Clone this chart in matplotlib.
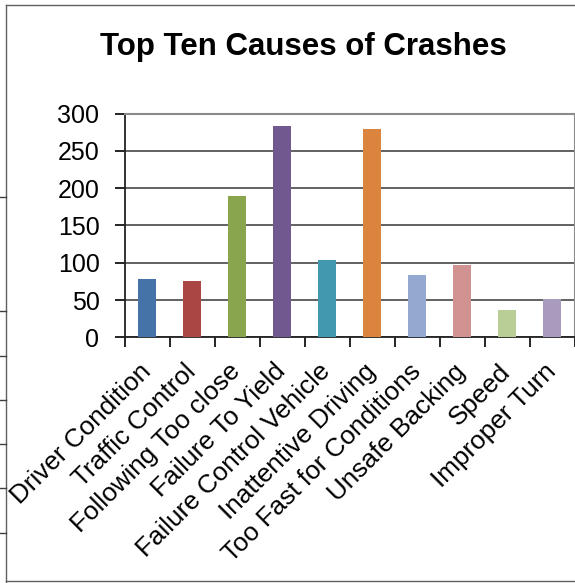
import matplotlib.pyplot as plt
from matplotlib.lines import Line2D
import numpy as np

# Chart data
causes = [
    "Driver Condition", "Traffic Control", "Following Too close",
    "Failure To Yield", "Failure Control Vehicle", "Inattentive Driving",
    "Too Fast for Conditions", "Unsafe Backing", "Speed", "Improper Turn",
]
crashes = [78, 76, 190, 284, 104, 279, 84, 97, 37, 52]
bar_colors = [
    "#4572A7", "#AA4643", "#89A54E", "#71588F", "#4198AF",
    "#DB843D", "#93A9CF", "#D19392", "#B9CD96", "#A99BBD",
]
y_ticks = [0, 50, 100, 150, 200, 250, 300]

W, H = 575, 583
plt.rcParams["font.family"] = ["Liberation Sans", "DejaVu Sans"]

fig = plt.figure(figsize=(W / 100, H / 100), dpi=100)

# spreadsheet frame around the chart
frame_col = "#606060"
fig.add_artist(Line2D([6 / W, 6 / W], [0, 1 - 5 / H], color=frame_col, lw=1.0,
                      transform=fig.transFigure))
fig.add_artist(Line2D([6 / W, 574 / W], [1 - 5 / H, 1 - 5 / H], color=frame_col,
                      lw=1.0, transform=fig.transFigure))
fig.add_artist(Line2D([6 / W, 1], [1 - 581 / H, 1 - 581 / H], color=frame_col,
                      lw=1.0, transform=fig.transFigure))
for yy in [197, 311, 356, 400, 444, 488, 533]:
    fig.add_artist(Line2D([0, 6 / W], [1 - yy / H, 1 - yy / H], color="#404040",
                          lw=1.0, transform=fig.transFigure))

left, right = 124.5, 574.5
top, bottom = 113.7, 337.3
ax = fig.add_axes([left / W, 1 - bottom / H, (right - left) / W, (bottom - top) / H])

x = np.arange(len(causes))
ax.bar(x, crashes, width=0.41, color=bar_colors, zorder=3)

ax.set_xlim(-0.5, len(causes) - 0.5)
ax.set_ylim(0, 300)
ax.set_yticks(y_ticks)
ax.yaxis.grid(True, color="#555555", lw=1.3, zorder=0)

ax.set_xticks(x)
ax.set_xticklabels(causes, rotation=45, ha="right", va="center",
                   rotation_mode="anchor", fontsize=18.8)
ax.set_xticks(np.arange(len(causes) + 1) - 0.5, minor=True)
ax.tick_params(axis="x", which="major", length=0, pad=22)
ax.tick_params(axis="x", which="minor", length=7, width=1.2, direction="out")
ax.tick_params(axis="y", length=7, width=1.2, direction="out", labelsize=18, pad=11)

for side in ["top", "right"]:
    ax.spines[side].set_color("#8a8a8a")
    ax.spines[side].set_linewidth(1.5)
for side in ["left", "bottom"]:
    ax.spines[side].set_color("#222222")
    ax.spines[side].set_linewidth(1.3)

fig.text(303 / W, 1 - 47 / H, "Top Ten Causes of Crashes", ha="center", va="center",
         fontsize=22.5, fontweight="bold")

fig.savefig("out.png", dpi=100)
